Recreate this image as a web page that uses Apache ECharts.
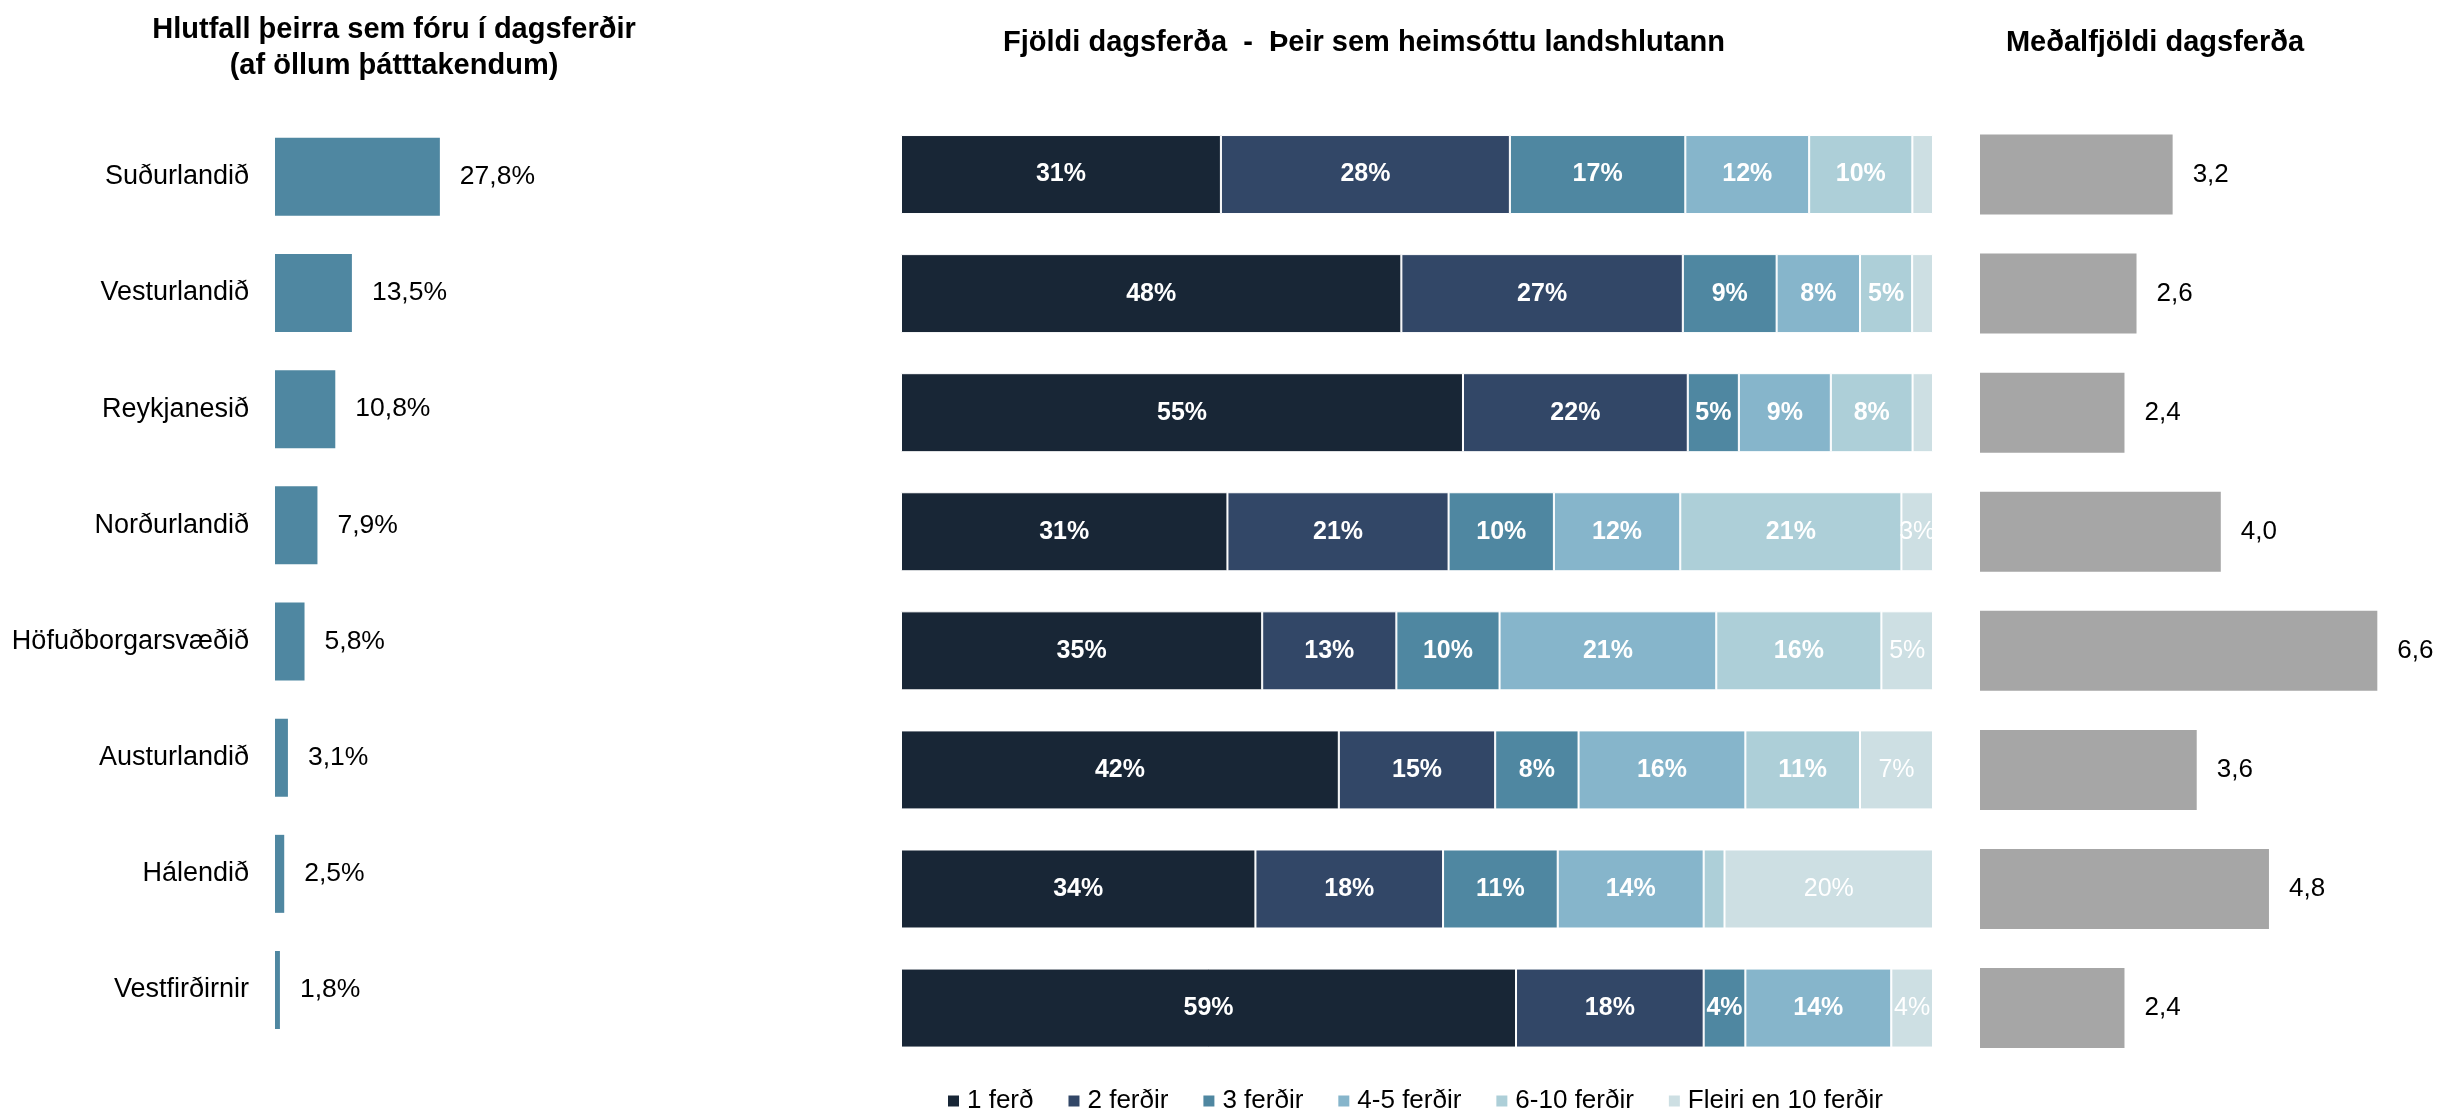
<!DOCTYPE html>
<html>
<head>
<meta charset="utf-8">
<script src="https://cdn.jsdelivr.net/npm/echarts@6/dist/echarts.min.js"></script>
<style>
html, body { margin: 0; padding: 0; background: #fff; }
#chart { width: 2453px; height: 1109px; }
</style>
</head>
<body>
<div id="chart"></div>
<script>
// landshlutar
var regions = ['Suðurlandið', 'Vesturlandið', 'Reykjanesið', 'Norðurlandið',
    'Höfuðborgarsvæðið', 'Austurlandið', 'Hálendið', 'Vestfirðirnir'];
// hlutfall af öllum þátttakendum (%)
var shareOfAll = [27.8, 13.5, 10.8, 7.9, 5.8, 3.1, 2.5, 1.8];
// fjöldi dagsferða (%)
var tripNames = ['1 ferð', '2 ferðir', '3 ferðir', '4-5 ferðir', '6-10 ferðir', 'Fleiri en 10 ferðir'];
var trips1 = [31, 48, 55, 31, 35, 42, 34, 59];
var trips2 = [28, 27, 22, 21, 13, 15, 18, 18];
var trips3 = [17, 9, 5, 10, 10, 8, 11, 4];
var trips45 = [12, 8, 9, 12, 21, 16, 14, 14];
var trips610 = [10, 5, 8, 21, 16, 11, 2, 0];
var tripsMore = [2, 2, 2, 3, 5, 7, 20, 4];
// meðalfjöldi dagsferða
var avgTrips = [3.2, 2.6, 2.4, 4.0, 6.6, 3.6, 4.8, 2.4];

var tripColors = ['#182636', '#324767', '#4f87a1', '#86b5cb', '#adcfd8', '#cddfe3'];
var font = 'Liberation Sans, Arial, sans-serif';

var chart = echarts.init(document.getElementById('chart'));

var tripRows = [trips1, trips2, trips3, trips45, trips610, tripsMore];
// 100% stafli: hver röð kvörðuð í 100
var rowSum = regions.map(function (r, i) {
    var s = 0;
    for (var k = 0; k < tripRows.length; k++) s += tripRows[k][i];
    return s;
});

function comma(v, d) {
    return v.toFixed(d).replace('.', ',');
}

var series = [];
series.push({
    type: 'bar',
    xAxisIndex: 0, yAxisIndex: 0,
    barWidth: 78,
    itemStyle: { color: '#4f87a1' },
    label: {
        show: true, position: 'right', distance: 20,
        fontFamily: font, fontSize: 26.5, color: '#000',
        formatter: function (p) { return comma(p.value, 1) + '%'; }
    },
    data: shareOfAll
});

tripRows.forEach(function (row, k) {
    series.push({
        name: tripNames[k],
        type: 'bar',
        stack: 'ferdir',
        xAxisIndex: 1, yAxisIndex: 1,
        barWidth: 79,
        itemStyle: { color: tripColors[k], borderColor: '#fff', borderWidth: 1 },
        label: {
            position: 'inside',
            fontFamily: font, fontSize: 25, color: '#fff',
            fontWeight: k < 5 ? 'bold' : 'normal',
            formatter: function (p) { return p.data.raw + '%'; }
        },
        data: row.map(function (v, i) {
            return { value: v / rowSum[i] * 100, raw: v, label: { show: v >= 3 } };
        })
    });
});

series.push({
    type: 'bar',
    xAxisIndex: 2, yAxisIndex: 2,
    barWidth: 80,
    itemStyle: { color: '#a6a6a6' },
    label: {
        show: true, position: 'right', distance: 20,
        fontFamily: font, fontSize: 26, color: '#000',
        formatter: function (p) { return comma(p.value, 1); }
    },
    data: avgTrips
});

var titleStyle = { fontFamily: font, fontSize: 29, fontWeight: 'bold', color: '#000', lineHeight: 36 };

option = {
    animation: false,
    backgroundColor: '#fff',
    title: [
        { text: 'Hlutfall þeirra sem fóru í dagsferðir\n(af öllum þátttakendum)', left: 389, top: 7, textAlign: 'center', textStyle: titleStyle },
        { text: 'Fjöldi dagsferða  -  Þeir sem heimsóttu landshlutann', left: 1359, top: 20, textAlign: 'center', textStyle: titleStyle },
        { text: 'Meðalfjöldi dagsferða', left: 2150, top: 20, textAlign: 'center', textStyle: titleStyle }
    ],
    legend: {
        data: tripNames,
        left: 941, top: 1083,
        icon: 'rect', itemWidth: 13, itemHeight: 13, itemGap: 33,
        textStyle: { fontFamily: font, fontSize: 26, color: '#000', padding: [0, 0, 0, 2] }
    },
    grid: [
        { left: 275, top: 118.7, width: 178.4, height: 929.4 },
        { left: 901, top: 115, width: 1032, height: 952.6 },
        { left: 1980, top: 115, width: 421.4, height: 952.6 }
    ],
    xAxis: [
        { gridIndex: 0, type: 'value', min: 1, max: 30, show: false },
        { gridIndex: 1, type: 'value', min: 0, max: 100, show: false },
        { gridIndex: 2, type: 'value', min: 0, max: 7, show: false }
    ],
    yAxis: [
        {
            gridIndex: 0, type: 'category', inverse: true, data: regions,
            axisLine: { show: false }, axisTick: { show: false },
            axisLabel: { fontFamily: font, fontSize: 27, color: '#000', margin: 26 }
        },
        { gridIndex: 1, type: 'category', inverse: true, data: regions, show: false },
        { gridIndex: 2, type: 'category', inverse: true, data: regions, show: false }
    ],
    series: series
};
chart.setOption(option);
</script>
</body>
</html>
